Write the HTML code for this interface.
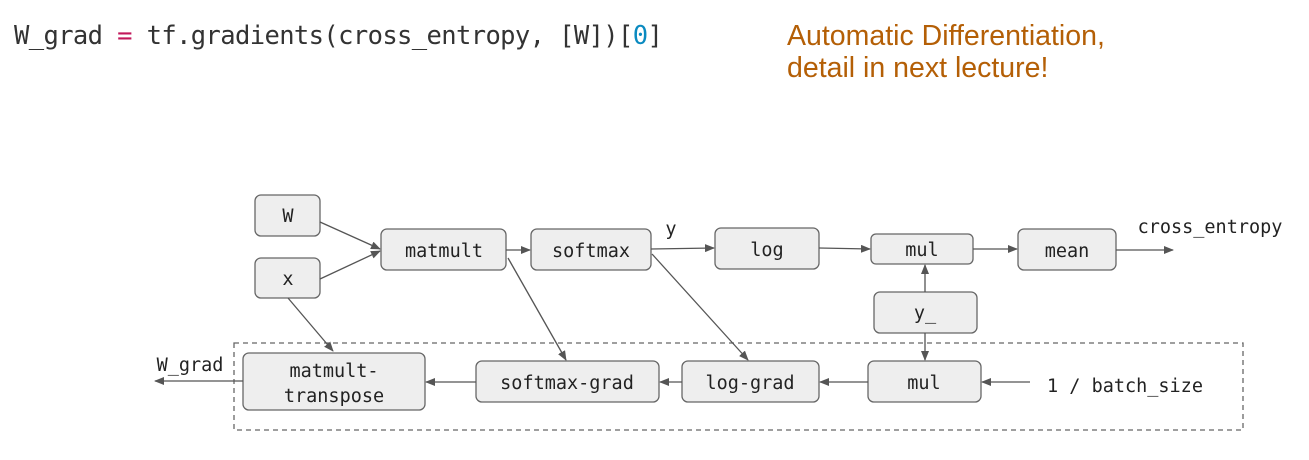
<!DOCTYPE html>
<html><head><style>
body{margin:0;background:#fff;width:1309px;height:460px;overflow:hidden;position:relative;font-family:"DejaVu Sans Mono","Liberation Mono",monospace}
.code{position:absolute;left:14px;top:21px;font-size:25.5px;color:#333;white-space:pre;letter-spacing:-0.62px}
.note{position:absolute;left:787px;top:20px;font-family:"Liberation Sans",sans-serif;font-size:28.5px;line-height:32px;color:#b45f06}
</style></head><body>
<div class="code">W_grad <span style="color:#c2185b">=</span> tf.gradients(cross_entropy, [W])[<span style="color:#0a8ac0">0</span>]</div>
<div class="note">Automatic Differentiation,<br>detail in next lecture!</div>
<svg width="1309" height="460" style="position:absolute;left:0;top:0">
<defs><marker id="a" markerWidth="10" markerHeight="8" refX="9" refY="4" orient="auto" markerUnits="userSpaceOnUse"><path d="M0,0L10,4L0,8z" fill="#555"/></marker></defs>
<rect x="234" y="343" width="1009" height="87" fill="none" stroke="#666" stroke-dasharray="5,4" stroke-width="1.3"/>
<g fill="#eeeeee" stroke="#666" stroke-width="1.3">
<rect x="255" y="195" width="65" height="41" rx="6"/>
<rect x="255" y="258" width="65" height="40" rx="6"/>
<rect x="381" y="229" width="125" height="41" rx="6"/>
<rect x="531" y="229" width="120" height="41" rx="6"/>
<rect x="715" y="228" width="104" height="41" rx="6"/>
<rect x="871" y="234" width="102" height="30" rx="5"/>
<rect x="1018" y="229" width="98" height="41" rx="6"/>
<rect x="874" y="292" width="103" height="41" rx="6"/>
<rect x="868" y="361" width="113" height="41" rx="6"/>
<rect x="682" y="361" width="137" height="41" rx="6"/>
<rect x="476" y="361" width="183" height="41" rx="6"/>
<rect x="243" y="353" width="182" height="57" rx="6"/>
</g>
<g stroke="#555" stroke-width="1.3" marker-end="url(#a)">
<line x1="320" y1="222" x2="380" y2="249"/>
<line x1="320" y1="279" x2="380" y2="251"/>
<line x1="506" y1="250" x2="530" y2="250"/>
<line x1="651" y1="249" x2="714" y2="248"/>
<line x1="819" y1="248" x2="870" y2="249"/>
<line x1="973" y1="249" x2="1017" y2="249"/>
<line x1="1116" y1="250" x2="1173" y2="250"/>
<line x1="925" y1="292" x2="925" y2="265"/>
<line x1="925" y1="333" x2="925" y2="360"/>
<line x1="1030" y1="382" x2="982" y2="382"/>
<line x1="868" y1="382" x2="820" y2="382"/>
<line x1="682" y1="382" x2="660" y2="382"/>
<line x1="476" y1="382" x2="426" y2="382"/>
<line x1="243" y1="381" x2="155" y2="381"/>
<line x1="288" y1="298" x2="333" y2="351"/>
<line x1="508" y1="258" x2="566" y2="360"/>
<line x1="652" y1="254" x2="748" y2="360"/>
</g>
<g font-family="DejaVu Sans Mono,Liberation Mono,monospace" font-size="18.5" fill="#222" text-anchor="middle">
<text x="288" y="222">W</text>
<text x="288" y="285">x</text>
<text x="444" y="257">matmult</text>
<text x="591" y="257">softmax</text>
<text x="767" y="256">log</text>
<text x="922" y="256">mul</text>
<text x="1067" y="257">mean</text>
<text x="925" y="319">y_</text>
<text x="924" y="389">mul</text>
<text x="750" y="389">log-grad</text>
<text x="567" y="389">softmax-grad</text>
<text x="334" y="377">matmult-</text>
<text x="334" y="402">transpose</text>
<text x="671" y="235">y</text>
<text x="1210" y="233">cross_entropy</text>
<text x="190" y="371">W_grad</text>
<text x="1125" y="392">1 / batch_size</text>
</g>
</svg>
</body></html>
